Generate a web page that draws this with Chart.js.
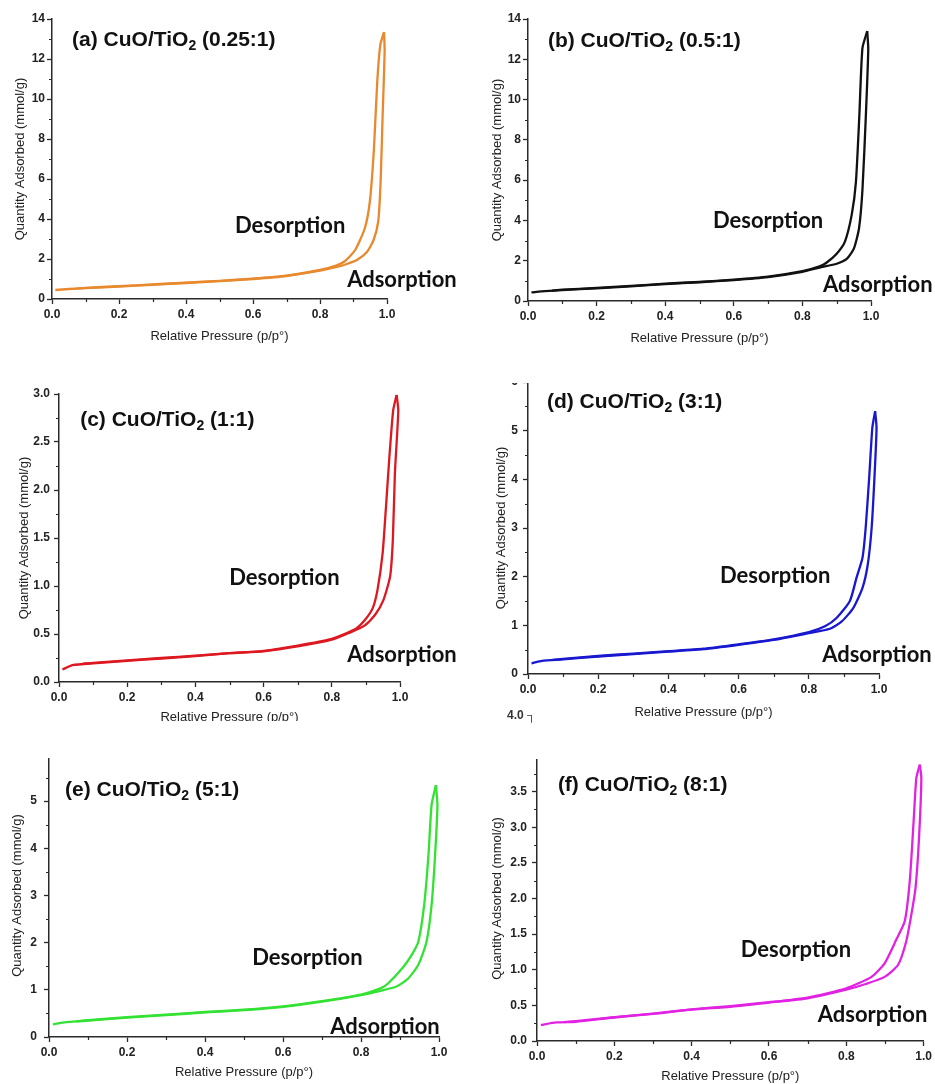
<!DOCTYPE html>
<html>
<head>
<meta charset="utf-8">
<script src="https://cdn.jsdelivr.net/npm/chart.js@4.4.1/dist/chart.umd.min.js"></script>
<style>
  body { margin: 0; background: #fff; }
  #page { position: relative; width: 935px; height: 1084px; overflow: hidden; background: #fff; }
  .panel { position: absolute; overflow: hidden; }
  .panel canvas { position: absolute; left: 0; }
  #stray { position: absolute; left: 507px; top: 708px; font: bold 12px "Liberation Sans", Arial, sans-serif; color: #333; line-height: 14px; }
</style>
</head>
<body>
<div id="page">
  <div class="panel" style="left:0;top:0;width:465px;height:350px"><canvas id="ca" width="465" height="350" style="top:0"></canvas></div>
  <div class="panel" style="left:465px;top:0;width:470px;height:350px"><canvas id="cb" width="470" height="350" style="top:0"></canvas></div>
  <div class="panel" style="left:0;top:350px;width:465px;height:371px"><canvas id="cc" width="465" height="385" style="top:0"></canvas></div>
  <div class="panel" style="left:465px;top:383px;width:470px;height:342px"><canvas id="cd" width="470" height="375" style="top:-33px"></canvas></div>
  <div class="panel" style="left:0;top:758px;width:465px;height:326px"><canvas id="ce" width="465" height="359" style="top:-33px"></canvas></div>
  <div class="panel" style="left:465px;top:759px;width:470px;height:325px"><canvas id="cf" width="470" height="359" style="top:-34px"></canvas></div>
  <div id="stray">4.0 ┐</div>
</div>
<script>
const adsP_a = [0.01, 0.05, 0.1, 0.2, 0.3, 0.4, 0.5, 0.6, 0.7, 0.8, 0.85, 0.88, 0.91, 0.94, 0.96, 0.974, 0.981, 0.987, 0.993, 0.991];
const adsQ_a = [0.45, 0.50, 0.54, 0.62, 0.71, 0.80, 0.89, 1.00, 1.15, 1.42, 1.60, 1.75, 1.95, 2.35, 2.95, 3.9, 5.9, 9.2, 12.4, 13.35];
const desP_a = [0.991, 0.980, 0.971, 0.961, 0.949, 0.934, 0.905, 0.875, 0.85, 0.8, 0.7, 0.6, 0.5, 0.4, 0.3, 0.2, 0.1, 0.07];
const desQ_a = [13.35, 12.7, 10.9, 7.5, 4.9, 3.55, 2.45, 1.9, 1.68, 1.45, 1.17, 1.02, 0.91, 0.82, 0.73, 0.64, 0.56, 0.52];

const adsP_b = [0.01, 0.05, 0.1, 0.2, 0.3, 0.4, 0.5, 0.6, 0.7, 0.8, 0.85, 0.9, 0.93, 0.95, 0.965, 0.975, 0.985, 0.992, 0.989];
const adsQ_b = [0.43, 0.49, 0.54, 0.63, 0.73, 0.84, 0.93, 1.04, 1.19, 1.45, 1.66, 1.85, 2.1, 2.6, 3.6, 5.5, 9.2, 12.5, 13.4];
const desP_b = [0.989, 0.975, 0.966, 0.956, 0.944, 0.924, 0.9, 0.87, 0.85, 0.8, 0.7, 0.6, 0.5, 0.4, 0.3, 0.2, 0.1, 0.07];
const desQ_b = [13.4, 12.55, 9.2, 5.9, 4.3, 2.95, 2.35, 1.9, 1.72, 1.48, 1.21, 1.06, 0.95, 0.86, 0.75, 0.65, 0.56, 0.52];

const adsP_c = [0.01, 0.04, 0.1, 0.2, 0.3, 0.4, 0.5, 0.6, 0.7, 0.8, 0.85, 0.897, 0.927, 0.951, 0.971, 0.979, 0.985, 0.995, 0.99];
const adsQ_c = [0.13, 0.175, 0.195, 0.22, 0.245, 0.27, 0.30, 0.32, 0.37, 0.44, 0.51, 0.59, 0.70, 0.85, 1.10, 1.48, 2.17, 2.83, 2.99];
const desP_c = [0.99, 0.98, 0.969, 0.959, 0.949, 0.934, 0.920, 0.897, 0.873, 0.85, 0.8, 0.7, 0.6, 0.5, 0.4, 0.3, 0.2, 0.1, 0.07];
const desQ_c = [2.99, 2.83, 2.35, 1.83, 1.34, 0.96, 0.77, 0.645, 0.56, 0.52, 0.45, 0.38, 0.325, 0.30, 0.275, 0.25, 0.225, 0.2, 0.19];

const adsP_d = [0.01, 0.04, 0.1, 0.2, 0.3, 0.4, 0.5, 0.6, 0.7, 0.8, 0.86, 0.894, 0.927, 0.953, 0.968, 0.979, 0.987, 0.993, 0.989];
const adsQ_d = [0.22, 0.27, 0.30, 0.36, 0.41, 0.46, 0.51, 0.60, 0.70, 0.84, 0.93, 1.08, 1.36, 1.77, 2.25, 3.0, 4.03, 5.06, 5.40];
const desP_d = [0.989, 0.981, 0.972, 0.962, 0.953, 0.936, 0.917, 0.879, 0.846, 0.8, 0.7, 0.6, 0.5, 0.4, 0.3, 0.2, 0.1, 0.07];
const desQ_d = [5.40, 5.06, 4.03, 3.0, 2.39, 1.98, 1.50, 1.15, 0.98, 0.86, 0.71, 0.61, 0.52, 0.47, 0.42, 0.37, 0.31, 0.29];

const adsP_e = [0.01, 0.05, 0.1, 0.2, 0.3, 0.4, 0.5, 0.6, 0.7, 0.8, 0.85, 0.891, 0.921, 0.947, 0.968, 0.981, 0.99, 0.996, 0.992];
const adsQ_e = [0.27, 0.32, 0.345, 0.41, 0.465, 0.52, 0.57, 0.64, 0.75, 0.89, 0.98, 1.07, 1.24, 1.53, 2.02, 2.80, 3.86, 4.92, 5.34];
const desP_e = [0.992, 0.981, 0.973, 0.962, 0.947, 0.93, 0.909, 0.87, 0.85, 0.8, 0.7, 0.6, 0.5, 0.4, 0.3, 0.2, 0.1, 0.07];
const desQ_e = [5.34, 4.92, 3.86, 2.80, 2.02, 1.74, 1.49, 1.14, 1.03, 0.90, 0.76, 0.65, 0.58, 0.53, 0.475, 0.42, 0.355, 0.33];

const adsP_f = [0.01, 0.05, 0.1, 0.2, 0.3, 0.4, 0.5, 0.6, 0.7, 0.8, 0.85, 0.899, 0.934, 0.955, 0.968, 0.979, 0.988, 0.994, 0.99];
const adsQ_f = [0.225, 0.26, 0.27, 0.33, 0.38, 0.44, 0.48, 0.54, 0.60, 0.72, 0.80, 0.90, 1.07, 1.40, 1.77, 2.15, 2.85, 3.69, 3.88];
const desP_f = [0.99, 0.981, 0.974, 0.964, 0.951, 0.929, 0.899, 0.865, 0.8, 0.7, 0.6, 0.5, 0.4, 0.3, 0.2, 0.1, 0.07];
const desQ_f = [3.88, 3.69, 3.08, 2.24, 1.68, 1.42, 1.09, 0.90, 0.74, 0.61, 0.545, 0.49, 0.445, 0.385, 0.335, 0.28, 0.265];

const xTicks = [0, 0.2, 0.4, 0.6, 0.8, 1.0];
const ratios = ['0.25:1', '0.5:1', '1:1', '3:1', '5:1', '8:1'];

const ARIAL = '"Liberation Sans", Arial, sans-serif';
const axisColor = '#2a2a2a';

function toPoints(P, Q) {
    return P.map((p, i) => ({ x: p, y: Q[i] }));
}

// minor tick marks halfway between the labelled ones
const minorTicks = {
    id: 'minorTicks',
    afterDraw(chart) {
        const { ctx, chartArea, scales: { x, y } } = chart;
        ctx.save();
        ctx.strokeStyle = axisColor;
        ctx.lineWidth = 1.2;
        ctx.beginPath();
        for (let v = 0.1; v < 1; v += 0.2) {
            const px = Math.round(x.getPixelForValue(v)) + 0.5;
            ctx.moveTo(px, chartArea.bottom);
            ctx.lineTo(px, chartArea.bottom + 3);
        }
        const step = y.options.ticks.stepSize;
        for (let v = step / 2; v < y.max; v += step) {
            const py = Math.round(y.getPixelForValue(v)) + 0.5;
            ctx.moveTo(chartArea.left - 3, py);
            ctx.lineTo(chartArea.left, py);
        }
        ctx.stroke();
        ctx.restore();
    }
};

function makePanel(id, p) {
    // panel title (with subscript) and branch labels, placed in data units
    const panelText = {
        id: 'panelText',
        afterDraw(chart) {
            const { ctx, scales: { x, y } } = chart;
            ctx.save();
            ctx.fillStyle = '#111';
            ctx.textBaseline = 'middle';
            let tx = x.getPixelForValue(p.titleAt[0]);
            const ty = y.getPixelForValue(p.titleAt[1]);
            const head = '(' + p.letter + ') CuO/TiO';
            ctx.font = 'bold 21px ' + ARIAL;
            ctx.fillText(head, tx, ty);
            tx += ctx.measureText(head).width;
            ctx.font = 'bold 14px ' + ARIAL;
            ctx.fillText('2', tx, ty + 6);
            tx += ctx.measureText('2').width;
            ctx.font = 'bold 21px ' + ARIAL;
            ctx.fillText(' (' + p.ratio + ')', tx, ty);

            ctx.font = 'bold 22px Lato, "Open Sans", sans-serif';
            ctx.fillText('Desorption', x.getPixelForValue(p.desAt[0]), y.getPixelForValue(p.desAt[1]));
            ctx.fillText('Adsorption', x.getPixelForValue(p.adsAt[0]), y.getPixelForValue(p.adsAt[1]));
            ctx.restore();
        }
    };

    const yFmt = v => (p.yDec ? v.toFixed(p.yDec) : String(Math.round(v)));

    new Chart(document.getElementById(id), {
        type: 'scatter',
        data: {
            datasets: [
                {
                    label: 'Adsorption',
                    data: toPoints(p.ads[0], p.ads[1]),
                    showLine: true,
                    borderColor: p.color,
                    borderWidth: 2.3,
                    pointRadius: 0,
                    tension: 0.2
                },
                {
                    label: 'Desorption',
                    data: toPoints(p.des[0], p.des[1]),
                    showLine: true,
                    borderColor: p.color,
                    borderWidth: 2.3,
                    pointRadius: 0,
                    tension: 0.2
                }
            ]
        },
        options: {
            responsive: false,
            animation: false,
            events: [],
            layout: { padding: p.pad },
            plugins: {
                legend: { display: false },
                tooltip: { enabled: false }
            },
            scales: {
                x: {
                    type: 'linear',
                    min: 0,
                    max: 1,
                    afterFit: s => { s.height = p.xH; },
                    afterBuildTicks: s => { s.ticks = xTicks.map(v => ({ value: v })); },
                    border: { display: true, color: axisColor, width: 1.5 },
                    grid: { drawOnChartArea: false, drawTicks: true, tickLength: 5, tickColor: axisColor, tickWidth: 1.3 },
                    ticks: {
                        padding: 3,
                        autoSkip: false,
                        maxRotation: 0,
                        color: '#222',
                        font: { family: ARIAL, size: 12, weight: 'bold' },
                        callback: v => v.toFixed(1)
                    },
                    title: {
                        display: true,
                        text: 'Relative Pressure (p/p°)',
                        color: '#222',
                        padding: 0,
                        font: { family: ARIAL, size: 13, weight: 'normal' }
                    }
                },
                y: {
                    type: 'linear',
                    min: 0,
                    max: p.yMax,
                    afterFit: s => { s.width = p.yW; },
                    border: { display: true, color: axisColor, width: 1.5 },
                    grid: { drawOnChartArea: false, drawTicks: true, tickLength: 5, tickColor: axisColor, tickWidth: 1.3 },
                    ticks: {
                        stepSize: p.yStep,
                        padding: p.yPad,
                        autoSkip: false,
                        color: '#222',
                        font: { family: ARIAL, size: 12, weight: 'bold' },
                        callback: yFmt
                    },
                    title: {
                        display: true,
                        text: 'Quantity Adsorbed (mmol/g)',
                        color: '#222',
                        padding: 0,
                        font: { family: ARIAL, size: 13, weight: 'normal' }
                    }
                }
            }
        },
        plugins: [minorTicks, panelText]
    });
}

makePanel('ca', {
    letter: 'a', ratio: ratios[0], color: '#E8892E',
    ads: [adsP_a, adsQ_a], des: [desP_a, desQ_a],
    yMax: 14, yStep: 2, yDec: 0, yPad: 2,
    pad: { left: 13, top: 19, right: 78, bottom: 6 }, yW: 39, xH: 45,
    titleAt: [0.060, 12.95], desAt: [0.546, 3.65], adsAt: [0.881, 0.95]
});
makePanel('cb', {
    letter: 'b', ratio: ratios[1], color: '#111111',
    ads: [adsP_b, adsQ_b], des: [desP_b, desQ_b],
    yMax: 14, yStep: 2, yDec: 0, yPad: 2,
    pad: { left: 25, top: 19, right: 64, bottom: 4 }, yW: 38, xH: 45,
    titleAt: [0.058, 12.91], desAt: [0.539, 3.97], adsAt: [0.860, 0.79]
});
makePanel('cc', {
    letter: 'c', ratio: ratios[2], color: '#DE1820',
    ads: [adsP_c, adsQ_c], des: [desP_c, desQ_c],
    yMax: 3, yStep: 0.5, yDec: 1, yPad: 4,
    pad: { left: 17, top: 44, right: 65, bottom: 10 }, yW: 42, xH: 43,
    titleAt: [0.062, 2.73], desAt: [0.499, 1.083], adsAt: [0.845, 0.281]
});
makePanel('cd', {
    letter: 'd', ratio: ratios[3], color: '#1818D0',
    ads: [adsP_d, adsQ_d], des: [desP_d, desQ_d],
    yMax: 6, yStep: 1, yDec: 0, yPad: 5,
    pad: { left: 29, top: 32, right: 56, bottom: 5 }, yW: 34, xH: 46,
    titleAt: [0.054, 5.58], desAt: [0.547, 2.02], adsAt: [0.838, 0.39]
});
makePanel('ce', {
    letter: 'e', ratio: ratios[4], color: '#33E233',
    ads: [adsP_e, adsQ_e], des: [desP_e, desQ_e],
    yMax: 6, yStep: 1, yDec: 0, yPad: 7,
    pad: { left: 10, top: 29, right: 26, bottom: 4 }, yW: 39, xH: 43,
    titleAt: [0.041, 5.23], desAt: [0.521, 1.67], adsAt: [0.721, 0.21]
});
makePanel('cf', {
    letter: 'f', ratio: ratios[5], color: '#E222E2',
    ads: [adsP_f, adsQ_f], des: [desP_f, desQ_f],
    yMax: 4, yStep: 0.5, yDec: 1, yPad: 5,
    pad: { left: 25, top: 31, right: 11, bottom: 0 }, yW: 47, xH: 43,
    titleAt: [0.054, 3.59], desAt: [0.527, 1.28], adsAt: [0.726, 0.366]
});
</script>
</body>
</html>
